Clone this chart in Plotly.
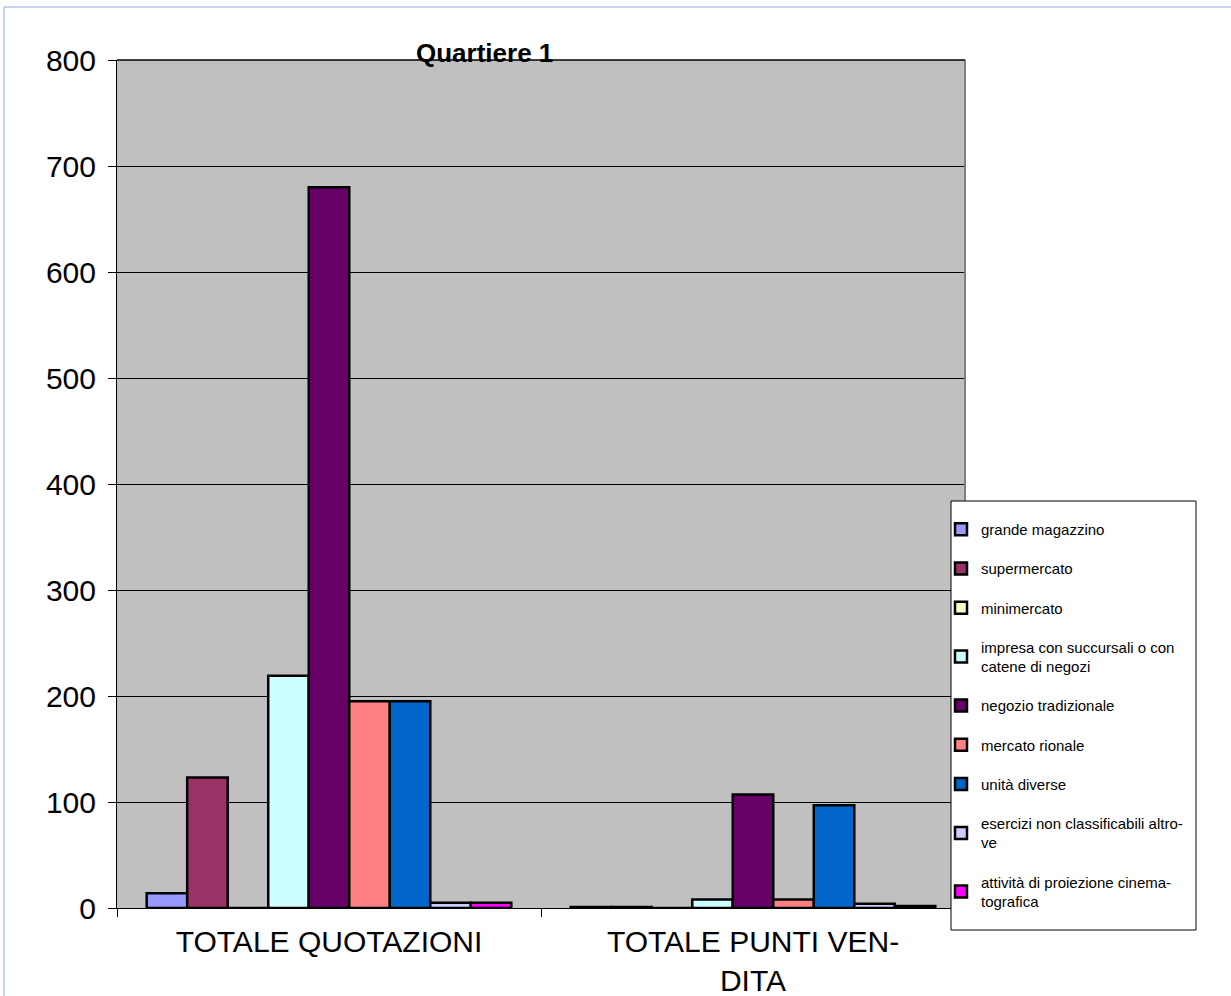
import plotly.graph_objects as go

categories = ["TOTALE QUOTAZIONI", "TOTALE PUNTI VEN-<br>DITA"]

series_names = [
    "grande magazzino",
    "supermercato",
    "minimercato",
    "impresa con succursali o con<br>catene di negozi",
    "negozio tradizionale",
    "mercato rionale",
    "unità diverse",
    "esercizi non classificabili altro-<br>ve",
    "attività di proiezione cinema-<br>tografica",
]

grande_magazzino = [14, 1]
supermercato = [123, 1]
minimercato = [0, 0]
impresa_succursali = [219, 8]
negozio_tradizionale = [680, 107]
mercato_rionale = [195, 8]
unita_diverse = [195, 97]
esercizi_non_class = [5, 4]
attivita_proiezione = [5, 2]

series_values = [
    grande_magazzino, supermercato, minimercato, impresa_succursali,
    negozio_tradizionale, mercato_rionale, unita_diverse,
    esercizi_non_class, attivita_proiezione,
]

colors = ["#9999FF", "#993366", "#FFFFCC", "#CCFFFF", "#660066",
          "#FF8080", "#0066CC", "#CCCCFF", "#FF00FF"]

W, H = 1231, 996
PL, PT, PR, PB = 117, 60, 965, 908  # plot area in page pixels
L, T = PL, PT
PW, PH = PR - PL, PB - PT
R, B = W - L - PW, H - T - PH

def px_x(x):
    return (x - PL) / PW

def px_y(y):
    return (PB - y) / PH

FONT = "Liberation Sans, Arial, sans-serif"

fig = go.Figure()
for i, (name, vals, col) in enumerate(zip(series_names, series_values, colors)):
    fig.add_trace(go.Bar(
        name=name, x=categories, y=vals,
        marker=dict(color=col, line=dict(color="#000000", width=2.5)),
        legendgroup=f"g{i}",
    ))

fig.update_layout(
    width=W, height=H,
    margin=dict(l=L, r=R, t=T, b=B, pad=0, autoexpand=False),
    paper_bgcolor="#FFFFFF",
    plot_bgcolor="#C0C0C0",
    barmode="group",
    bargap=0.14,
    bargroupgap=0,
    font=dict(family=FONT, color="#000000"),
    showlegend=True,
    legend=dict(
        x=px_x(941), y=px_y(513), xanchor="left", yanchor="top",
        bgcolor="rgba(0,0,0,0)", borderwidth=0,
        font=dict(family=FONT, size=15, color="#000000"),
        tracegroupgap=16.7,
        traceorder="grouped",
    ),
    xaxis=dict(
        type="category",
        automargin=False,
        showgrid=False,
        showline=True, linecolor="#000000", linewidth=1,
        ticks="outside", tickson="boundaries", ticklen=8, tickcolor="#000000",
        tickfont=dict(family=FONT, size=30, color="#000000"),
        ticklabelstandoff=7,
        zeroline=False,
    ),
    yaxis=dict(
        automargin=False,
        range=[0, 800], dtick=100, tick0=0,
        showgrid=True, gridcolor="#000000", gridwidth=1,
        showline=True, linecolor="#000000", linewidth=1,
        ticks="outside", ticklen=8, tickcolor="#000000",
        tickfont=dict(family=FONT, size=30, color="#000000"),
        ticklabelstandoff=6,
        zeroline=False,
    ),
    shapes=[
        # outer frame
        dict(type="rect", xref="paper", yref="paper",
             x0=px_x(4), x1=px_x(1260), y0=px_y(1020), y1=px_y(7),
             line=dict(color="#8EA9DB", width=1), fillcolor="rgba(0,0,0,0)", layer="below"),
        # right edge of plot area
        dict(type="line", xref="paper", yref="paper",
             x0=1, x1=1, y0=0, y1=1,
             line=dict(color="#808080", width=2)),
        # top edge of plot area
        dict(type="line", xref="paper", yref="paper",
             x0=0, x1=1, y0=1, y1=1,
             line=dict(color="#000000", width=1.5)),
        # legend box
        dict(type="rect", xref="paper", yref="paper",
             x0=px_x(951), x1=px_x(1196), y0=px_y(930), y1=px_y(501),
             line=dict(color="#000000", width=1), fillcolor="#FFFFFF", layer="above"),
    ],
    annotations=[
        dict(text="<b>Quartiere 1</b>", xref="paper", yref="paper",
             x=px_x(484), y=px_y(53), xanchor="center", yanchor="middle",
             showarrow=False, font=dict(family=FONT, size=26, color="#000000")),
    ],
)

fig.write_html(
    "out.html",
    config={"displayModeBar": False},
    post_script="document.body.style.margin='0';document.body.style.overflow='hidden';",
)
